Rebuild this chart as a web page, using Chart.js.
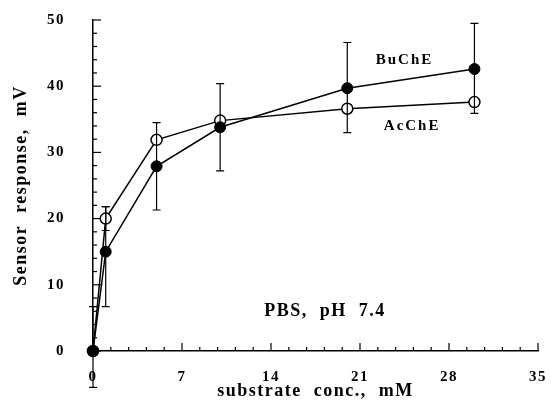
<!DOCTYPE html>
<html>
<head>
<meta charset="utf-8">
<script src="https://cdn.jsdelivr.net/npm/chart.js@4.4.0/dist/chart.umd.min.js"></script>
<style>
  html, body { margin: 0; padding: 0; background: #fff; }
  #wrap { width: 551px; height: 406px; }
</style>
</head>
<body>
<div id="wrap"><canvas id="chart"></canvas></div>
<script>
// substrate concentration, mM
const conc = [0, 1, 5, 10, 20, 30];

// BuChE sensor response, mV (filled circles)
const buche = [0, 15, 27.9, 33.8, 39.7, 42.6];
const bucheErrUp = [6.7, 6.8, 6.6, 6.6, 6.9, 6.9];
const bucheErrDown = [5.5, 8.3, 6.6, 6.6, 6.7, 6.7];

// AcChE sensor response, mV (open circles)
const ache = [0, 20, 31.9, 34.8, 36.6, 37.6];
const acheErrUp = [0, 1.8, 0, 0, 0, 0];
const acheErrDown = [0, 1.8, 0, 0, 0, 0];

const xTicks = [0, 7, 14, 21, 28, 35];
const yTicks = [0, 10, 20, 30, 40, 50];

const serif = '"Liberation Serif", "Times New Roman", serif';

function isMajor(list, v) {
    return list.some(t => Math.abs(t - v) < 1e-6);
}

const extras = {
    id: 'extras',
    beforeDraw(chart) {
        chart.ctx.letterSpacing = '1.5px';
    },
    afterDatasetsDraw(chart) {
        const ctx = chart.ctx;
        const xs = chart.scales.x, ys = chart.scales.y;
        const sets = [[buche, bucheErrUp, bucheErrDown], [ache, acheErrUp, acheErrDown]];
        ctx.save();
        ctx.strokeStyle = '#000';
        ctx.lineWidth = 1.2;
        sets.forEach(([vals, up, down]) => {
            vals.forEach((v, i) => {
                if (!up[i] && !down[i]) return;
                const px = xs.getPixelForValue(conc[i]);
                const top = ys.getPixelForValue(v + up[i]);
                const bot = ys.getPixelForValue(v - down[i]);
                ctx.beginPath();
                ctx.moveTo(px, top); ctx.lineTo(px, bot);
                ctx.moveTo(px - 4, top); ctx.lineTo(px + 4, top);
                ctx.moveTo(px - 4, bot); ctx.lineTo(px + 4, bot);
                ctx.stroke();
            });
        });
        ctx.restore();
    },
    afterDraw(chart) {
        const ctx = chart.ctx;
        const xs = chart.scales.x, ys = chart.scales.y;
        ctx.save();
        ctx.strokeStyle = '#000';
        ctx.lineWidth = 1.2;
        // inward tick marks
        xs.ticks.forEach(t => {
            const px = xs.getPixelForValue(t.value);
            const len = isMajor(xTicks, t.value) ? 8 : 4;
            ctx.beginPath();
            ctx.moveTo(px, xs.top); ctx.lineTo(px, xs.top - len);
            ctx.stroke();
        });
        ys.ticks.forEach(t => {
            const py = ys.getPixelForValue(t.value);
            const len = isMajor(yTicks, t.value) ? 8 : 4;
            ctx.beginPath();
            ctx.moveTo(ys.right, py); ctx.lineTo(ys.right + len, py);
            ctx.stroke();
        });
        // text labels in the plot
        ctx.fillStyle = '#000';
        ctx.textAlign = 'center';
        ctx.textBaseline = 'middle';
        ctx.letterSpacing = '2px';
        ctx.font = 'bold 15px ' + serif;
        ctx.fillText('BuChE', xs.getPixelForValue(24.5), ys.getPixelForValue(43.9));
        ctx.fillText('AcChE', xs.getPixelForValue(25.1), ys.getPixelForValue(33.9));
        ctx.letterSpacing = '1.5px';
        ctx.font = 'bold 18px ' + serif;
        ctx.fillText('PBS,  pH  7.4', xs.getPixelForValue(18.25), ys.getPixelForValue(6.0));
        ctx.restore();
    }
};

new Chart(document.getElementById('chart').getContext('2d'), {
    type: 'line',
    data: {
        datasets: [
            {
                label: 'BuChE',
                data: conc.map((x, i) => ({ x: x, y: buche[i] })),
                borderColor: '#000',
                borderWidth: 1.5,
                pointRadius: 5.5,
                pointBackgroundColor: '#000',
                pointBorderColor: '#000',
                pointBorderWidth: 1,
                tension: 0,
                clip: false
            },
            {
                label: 'AcChE',
                data: conc.map((x, i) => ({ x: x, y: ache[i] })),
                borderColor: '#000',
                borderWidth: 1.5,
                pointRadius: 5.5,
                pointBackgroundColor: '#fff',
                pointBorderColor: '#000',
                pointBorderWidth: 1.5,
                tension: 0,
                clip: false
            }
        ]
    },
    options: {
        responsive: true,
        maintainAspectRatio: false,
        animation: false,
        layout: { padding: { top: 20, right: 13, left: 0, bottom: 0 } },
        plugins: {
            legend: { display: false },
            tooltip: { enabled: false }
        },
        scales: {
            x: {
                type: 'linear',
                min: 0,
                max: 35,
                afterFit: scale => {
                    scale.height = 55;
                    scale.paddingLeft = 0;
                    scale.paddingRight = 0;
                },
                grid: { display: false, drawTicks: false },
                border: { display: true, color: '#000', width: 1.5 },
                ticks: {
                    stepSize: 1.4,
                    autoSkip: false,
                    maxRotation: 0,
                    padding: 17,
                    color: '#000',
                    font: { family: serif, size: 15, weight: 'bold' },
                    callback: v => isMajor(xTicks, v) ? String(Math.round(v)) : ''
                },
                title: {
                    display: true,
                    text: 'substrate  conc.,  mM',
                    color: '#000',
                    font: { family: serif, size: 18, weight: 'bold' },
                    padding: { top: 0, bottom: 4 }
                }
            },
            y: {
                min: 0,
                max: 50,
                afterFit: scale => {
                    scale.width = 93;
                    scale.paddingTop = 0;
                    scale.paddingBottom = 0;
                },
                grid: { display: false, drawTicks: false },
                border: { display: true, color: '#000', width: 1.5 },
                ticks: {
                    stepSize: 2,
                    autoSkip: false,
                    padding: 28,
                    color: '#000',
                    font: { family: serif, size: 15, weight: 'bold' },
                    callback: v => isMajor(yTicks, v) ? String(Math.round(v)) : ''
                },
                title: {
                    display: true,
                    text: 'Sensor  response,  mV',
                    color: '#000',
                    font: { family: serif, size: 18, weight: 'bold' },
                    padding: { top: 11, bottom: 0 }
                }
            }
        }
    },
    plugins: [extras]
});
</script>
</body>
</html>
